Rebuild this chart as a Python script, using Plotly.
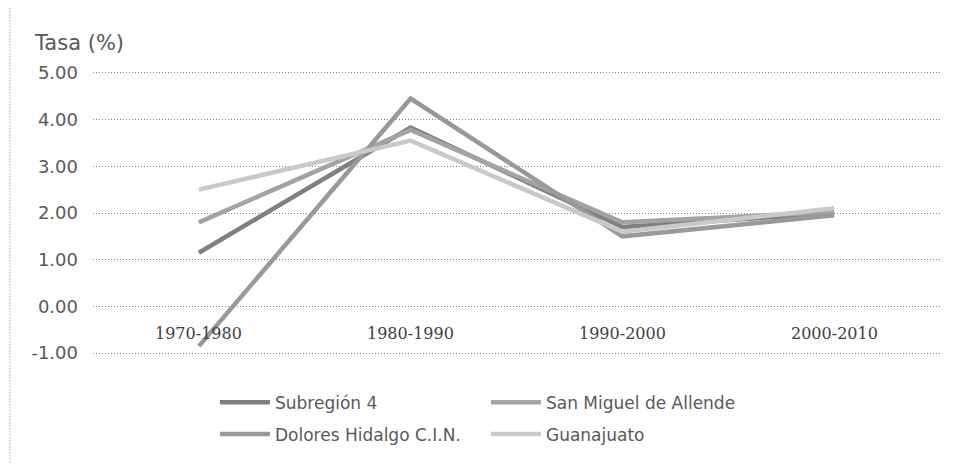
import plotly.graph_objects as go

categories = ["1970-1980", "1980-1990", "1990-2000", "2000-2010"]
subregion4 = [1.15, 3.83, 1.70, 2.00]
san_miguel = [1.80, 3.78, 1.80, 2.02]
dolores = [-0.85, 4.45, 1.50, 1.95]
guanajuato = [2.50, 3.55, 1.60, 2.10]

y_ticks = [-1, 0, 1, 2, 3, 4, 5]
y_tick_labels = ["-1.00", "0.00", "1.00", "2.00", "3.00", "4.00", "5.00"]

series = [
    ("Subregión 4", subregion4, "#808080", "legend"),
    ("San Miguel de Allende", san_miguel, "#a3a3a3", "legend"),
    ("Dolores Hidalgo C.I.N.", dolores, "#999999", "legend2"),
    ("Guanajuato", guanajuato, "#c9c9c9", "legend2"),
]

fig = go.Figure()
for name, vals, color, leg in series:
    fig.add_trace(go.Scatter(
        x=categories, y=vals, mode="lines", name=name,
        line=dict(color=color, width=4.5), legend=leg,
    ))

font_family = "DejaVu Sans, sans-serif"
txt = "#595959"

legend_common = dict(
    orientation="h", x=0.144, xanchor="left", yanchor="middle",
    entrywidth=206, entrywidthmode="pixels", itemwidth=50,
    font=dict(family=font_family, size=17, color=txt), bgcolor="rgba(0,0,0,0)",
)

fig.update_layout(
    width=949, height=457,
    margin=dict(l=85, r=17, t=63, b=108),
    paper_bgcolor="white", plot_bgcolor="white",
    font=dict(family=font_family, size=17, color=txt),
    xaxis=dict(
        type="category", range=[-0.5, 3.5], showticklabels=False,
        showgrid=False, zeroline=False, showline=False,
    ),
    yaxis=dict(
        range=[-1.04, 5.04], tickvals=y_ticks, ticktext=y_tick_labels,
        showgrid=True, gridcolor="#7f7f7f", griddash="1px,2px", gridwidth=1,
        zeroline=False, showline=False, ticklabelstandoff=14,
        tickfont=dict(family=font_family, size=18, color=txt),
    ),
    legend=dict(y=-0.168, **legend_common),
    legend2=dict(y=-0.280, **legend_common),
    showlegend=True,
)

# category labels placed at the y=0 crossing (Excel style)
for c in categories:
    fig.add_annotation(
        x=c, y=0, xref="x", yref="y", text=c, showarrow=False,
        yanchor="top", yshift=-16,
        font=dict(family="DejaVu Serif, serif", size=16, color="#404040"),
    )

fig.add_annotation(
    x=-0.072, y=1.098, xref="paper", yref="paper", text="Tasa (%)",
    showarrow=False, xanchor="left", yanchor="middle",
    font=dict(family=font_family, size=21, color=txt),
)

fig.add_shape(
    type="line", xref="paper", yref="paper",
    x0=-0.098, x1=-0.098, y0=-0.378, y1=1.248,
    line=dict(color="#7f7f7f", width=1, dash="1px,2px"),
)

fig.write_html("out.html")
